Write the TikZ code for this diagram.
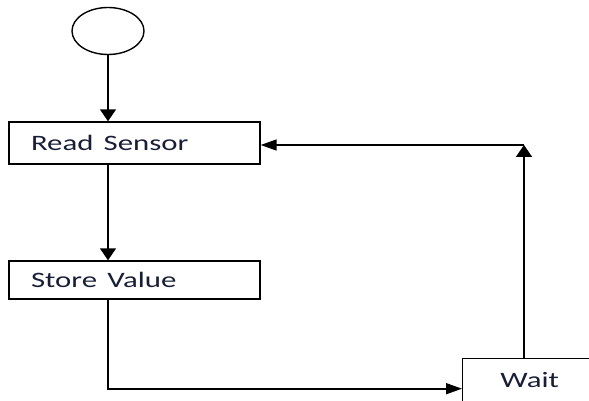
\documentclass[tikz,border=0pt]{standalone}
\usepackage{fontspec}
\setmainfont{Carlito}
\usetikzlibrary{shapes.geometric,arrows.meta}
\definecolor{txt}{RGB}{25,30,55}
\newcommand{\wide}[1]{\scalebox{1.4}[1]{#1}}
\tikzset{
  box/.style={draw, line width=1.4pt, rectangle, minimum width=251pt, text width=207pt,
    inner xsep=22pt, align=left, text height=14.3pt, text depth=0pt,
    font=\fontsize{22pt}{24pt}\selectfont, text=txt},
  vflow/.style={line width=1.6pt, -{Triangle[length=12pt,width=16pt]}},
  hflow/.style={line width=1.6pt, -{Triangle[length=16pt,width=11pt]}}
}
\begin{document}
\begin{tikzpicture}[x=1pt,y=-1pt]
\clip (0,0) rectangle (589,401);
\fill[white] (0,0) rectangle (589,401);
\node[draw, line width=1.4pt, ellipse, minimum width=72pt, minimum height=47pt] (start) at (108,31) {};
\node[box, minimum height=42pt] (read) at (134.5,143) {\wide{Read Sensor}};
\node[box, minimum height=38pt] (store) at (134.5,280) {\wide{Store Value}};
\node[box, anchor=north west, minimum width=134pt, text width=, align=center,
  minimum height=60pt, text depth=17pt] (wait) at (462,358) {\wide{Wait}};
\coordinate (corner) at (524,145);
\draw[vflow] (start.south) -- (start |- read.north);
\draw[vflow] (read.south -| start) -- (store.north -| start);
\draw[hflow] (store.south -| start) |- (wait.west);
\draw[vflow] (wait.north -| corner) -- (corner);
\draw[hflow] (corner) -- (corner -| read.east);
\end{tikzpicture}
\end{document}
